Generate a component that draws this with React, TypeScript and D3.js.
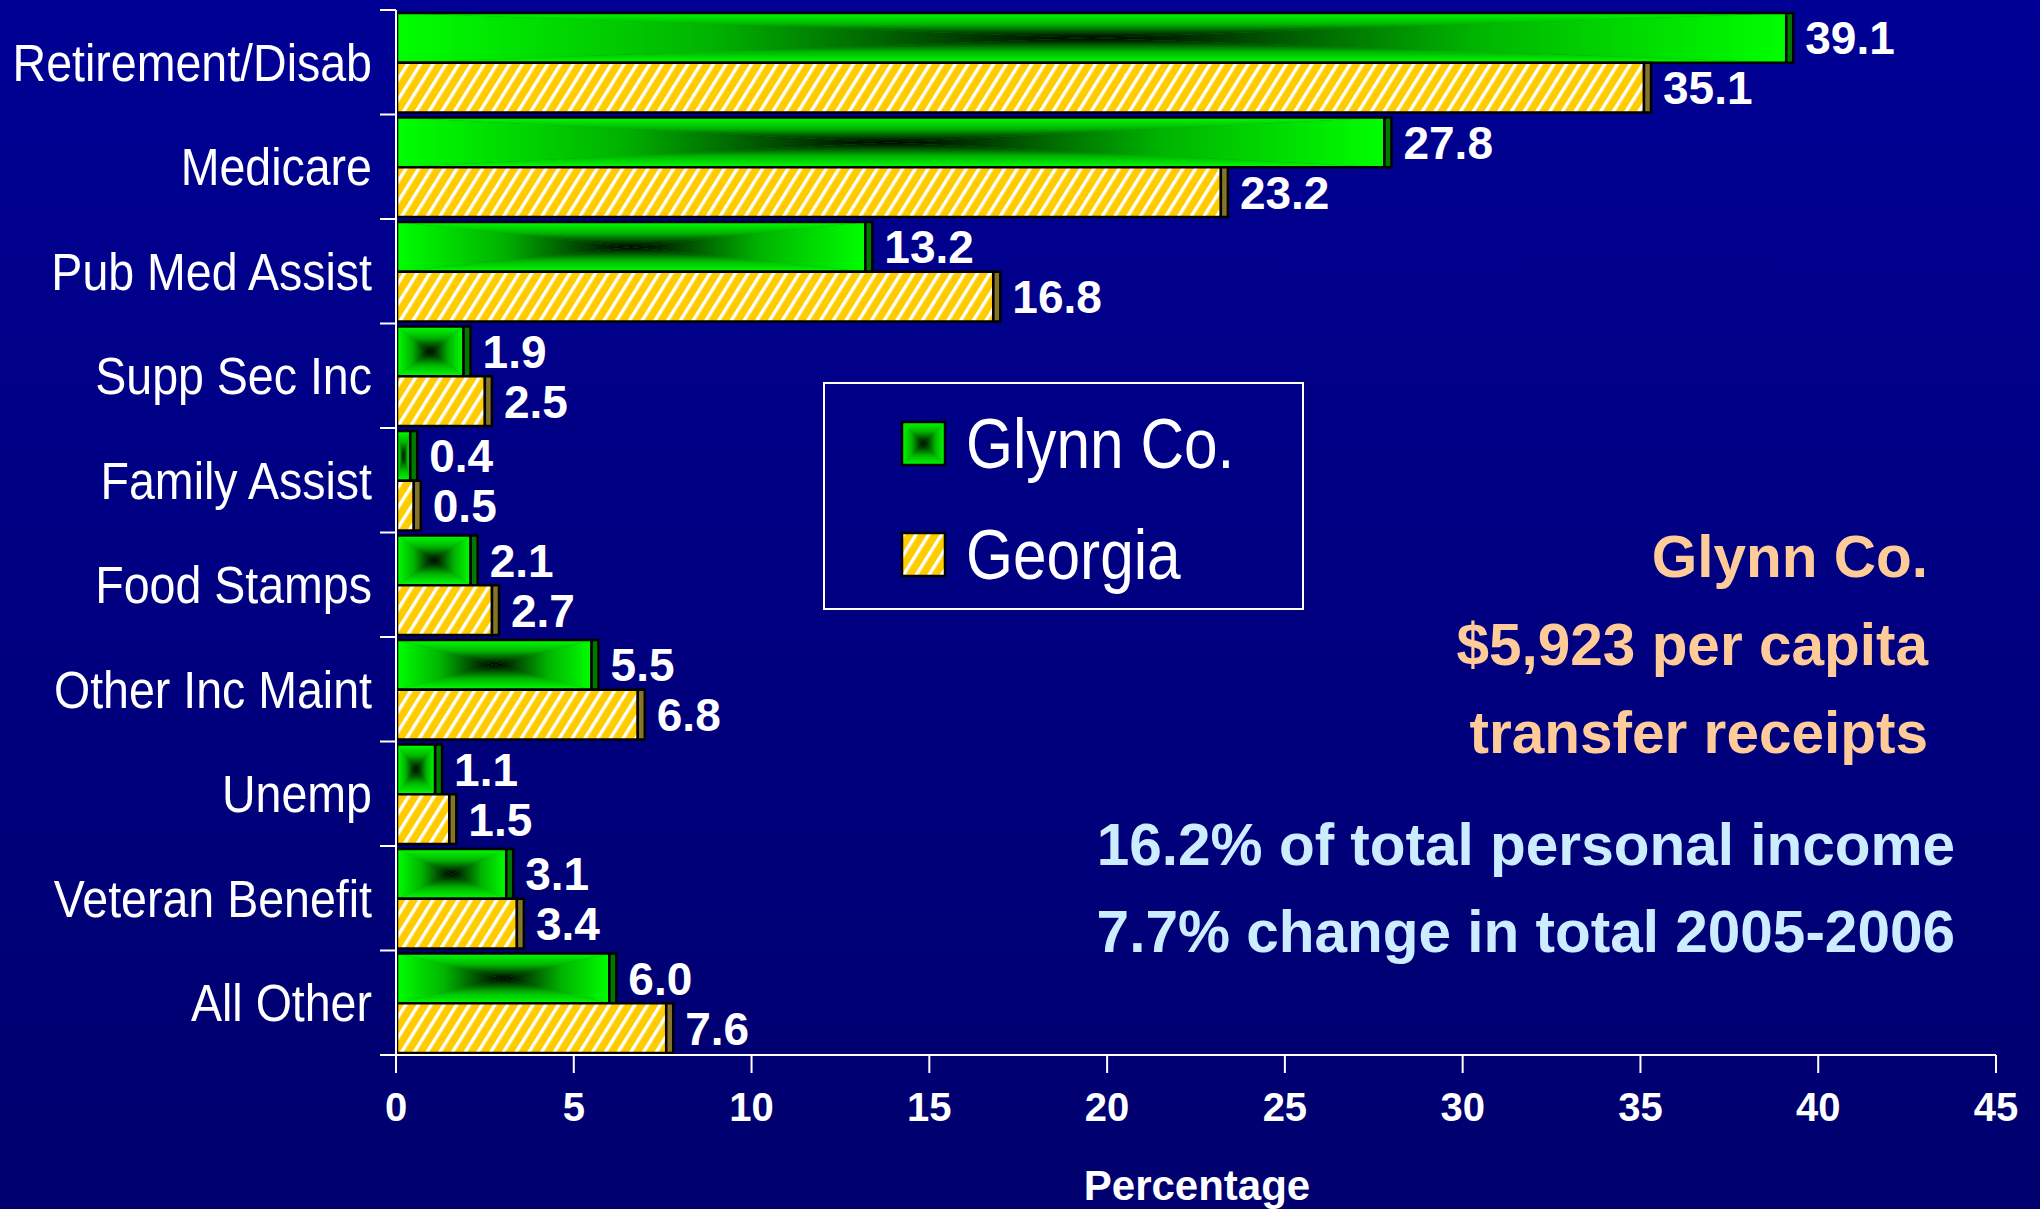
import React from 'react';
import { scaleLinear, scaleBand } from 'd3';

const categories = ['Retirement/Disab', 'Medicare', 'Pub Med Assist', 'Supp Sec Inc', 'Family Assist',
  'Food Stamps', 'Other Inc Maint', 'Unemp', 'Veteran Benefit', 'All Other'];
const glynn = [39.1, 27.8, 13.2, 1.9, 0.4, 2.1, 5.5, 1.1, 3.1, 6.0];
const georgia = [35.1, 23.2, 16.8, 2.5, 0.5, 2.7, 6.8, 1.5, 3.4, 7.6];
const seriesNames = ['Glynn Co.', 'Georgia'];
const xTicks = [0, 5, 10, 15, 20, 25, 30, 35, 40, 45];
const xTitle = 'Percentage';
const peachNotes = ['Glynn Co.', '$5,923 per capita', 'transfer receipts'];
const blueNotes = ['16.2% of total personal income', '7.7% change in total 2005-2006'];

const W = 2040, H = 1209;
const CAP = 7;
const LABEL_FONT = 'Liberation Sans, Arial, sans-serif';

// rectangular "from centre" gradient: four triangles, each with its own linear gradient
const GreenBar = ({ x0, x1, y0, y1 }) => {
  const cx = (x0 + x1) / 2, cy = (y0 + y1) / 2;
  const p = pts => pts.map(d => d.join(',')).join(' ');
  return (
    <g>
      <rect x={x0} y={y0} width={x1 - x0} height={y1 - y0} fill="#00a000" />
      <polygon points={p([[x0, y0], [cx, cy], [x0, y1]])} fill="url(#gL)" />
      <polygon points={p([[x1, y0], [cx, cy], [x1, y1]])} fill="url(#gR)" />
      <polygon points={p([[x0, y0], [x1, y0], [cx, cy]])} fill="url(#gT)" />
      <polygon points={p([[x0, y1], [x1, y1], [cx, cy]])} fill="url(#gB)" />
    </g>
  );
};

const stops = [[0, '#00ff00'], [0.45, '#00b400'], [0.75, '#005200'], [1, '#000000']];
const Grad = ({ id, x1, y1, x2, y2 }) => (
  <linearGradient id={id} x1={x1} y1={y1} x2={x2} y2={y2}>
    {stops.map(([o, c]) => <stop key={o} offset={o} stopColor={c} />)}
  </linearGradient>
);

const App = () => {
  document.body.style.margin = '0';

  const x = scaleLinear().domain([0, 45]).range([396, 1996]);
  const y = scaleBand().domain(categories).range([10, 1055]);
  const sub = scaleBand().domain(seriesNames).range([3, y.bandwidth() - 2]);
  const bh = sub.bandwidth();
  const series = [glynn, georgia];

  return (
    <svg width={W} height={H} style={{ display: 'block' }}>
      <defs>
        <linearGradient id="bg" x1="0" y1="0" x2="0" y2="1">
          <stop offset="0" stopColor="#000094" />
          <stop offset="1" stopColor="#00006e" />
        </linearGradient>
        <Grad id="gL" x1="0" y1="0" x2="1" y2="0" />
        <Grad id="gR" x1="1" y1="0" x2="0" y2="0" />
        <Grad id="gT" x1="0" y1="0" x2="0" y2="1" />
        <Grad id="gB" x1="0" y1="1" x2="0" y2="0" />
        <pattern id="stripes" patternUnits="userSpaceOnUse" width="10.8" height="10" patternTransform="rotate(32)">
          <rect width="10.8" height="10" fill="#ffcc00" />
          <rect x="0" width="3.4" height="10" fill="#ffffff" />
        </pattern>
      </defs>
      <rect width={W} height={H} fill="url(#bg)" />

      {/* bars */}
      {categories.map((c, i) => series.map((s, j) => {
        const name = seriesNames[j];
        const y0 = y(c) + sub(name), y1 = y0 + bh;
        const x0 = x(0) + 1, x1 = x(s[i]);
        return (
          <g key={c + name}>
            {j === 0
              ? <GreenBar x0={x0} x1={x1} y0={y0} y1={y1} />
              : <rect x={x0} y={y0} width={x1 - x0} height={bh} fill="url(#stripes)" />}
            <rect x={x0} y={y0} width={x1 - x0} height={bh} fill="none" stroke="#000" strokeWidth={2.5} />
            <rect x={x1} y={y0} width={CAP} height={bh} fill={j === 0 ? '#007800' : '#86742a'}
              stroke="#000" strokeWidth={2.5} />
            <text x={x1 + 19} y={y0 + bh / 2} dy="0.36em" fill="#fff" fontFamily={LABEL_FONT}
              fontWeight="bold" fontSize={46}>{s[i].toFixed(1)}</text>
          </g>
        );
      }))}

      {/* left axis */}
      <line x1={x(0)} x2={x(0)} y1={10} y2={1055} stroke="#fff" strokeWidth={2} />
      {[...categories.map(c => y(c)), 1055].map((t, i) => (
        <line key={i} x1={380} x2={x(0)} y1={t} y2={t} stroke="#fff" strokeWidth={2} />
      ))}
      {categories.map(c => (
        <text key={c} transform={`translate(372,${y(c) + y.bandwidth() / 2}) scale(0.895,1)`} dy="0.36em"
          textAnchor="end" fill="#fff" fontFamily={LABEL_FONT} fontSize={52}>{c}</text>
      ))}

      {/* bottom axis */}
      <line x1={x(0)} x2={x(45)} y1={1055} y2={1055} stroke="#fff" strokeWidth={2} />
      {xTicks.map(t => (
        <g key={t}>
          <line x1={x(t)} x2={x(t)} y1={1055} y2={1073} stroke="#fff" strokeWidth={2} />
          <text x={x(t)} y={1121} textAnchor="middle" fill="#fff" fontFamily={LABEL_FONT}
            fontWeight="bold" fontSize={40}>{t}</text>
        </g>
      ))}
      <text x={1197} y={1200} textAnchor="middle" fill="#fff" fontFamily={LABEL_FONT}
        fontWeight="bold" fontSize={42}>{xTitle}</text>

      {/* legend */}
      <rect x={824} y={383} width={479} height={226} fill="none" stroke="#fff" strokeWidth={2} />
      {seriesNames.map((n, j) => {
        const top = [422, 533][j];
        return (
          <g key={n}>
            {j === 0
              ? <GreenBar x0={902} x1={945} y0={top} y1={top + 43} />
              : <rect x={902} y={top} width={43} height={43} fill="url(#stripes)" />}
            <rect x={902} y={top} width={43} height={43} fill="none" stroke="#000" strokeWidth={2.5} />
            <text transform={`translate(966,${top + 46}) scale(0.85,1)`} fill="#fff"
              fontFamily={LABEL_FONT} fontSize={71}>{n}</text>
          </g>
        );
      })}

      {/* notes */}
      {peachNotes.map((t, i) => (
        <text key={t} x={1928} y={[577, 665, 753][i]} textAnchor="end" fill="#ffcc99"
          fontFamily={LABEL_FONT} fontWeight="bold" fontSize={58.5}>{t}</text>
      ))}
      {blueNotes.map((t, i) => (
        <text key={t} x={1955} y={[865, 952][i]} textAnchor="end" fill="#ccecff"
          fontFamily={LABEL_FONT} fontWeight="bold" fontSize={58.5}>{t}</text>
      ))}
    </svg>
  );
};

export default App;
